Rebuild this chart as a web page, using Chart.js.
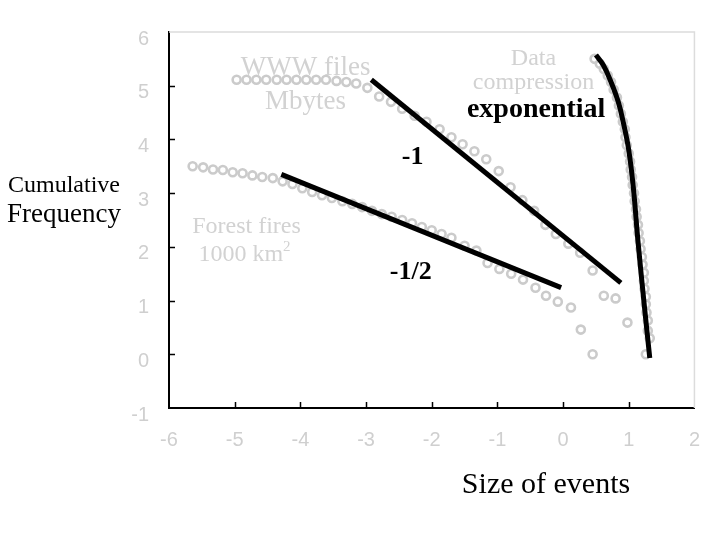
<!DOCTYPE html>
<html>
<head>
<meta charset="utf-8">
<script src="https://cdn.jsdelivr.net/npm/chart.js@4.4.1/dist/chart.umd.min.js"></script>
<style>
  html, body { margin: 0; padding: 0; background: #fff; }
</style>
</head>
<body>
<canvas id="chart" width="720" height="540"></canvas>
<script>
// log10 size / log10 cumulative frequency
const wwwX = [-4.97, -4.82, -4.67, -4.52, -4.36, -4.21, -4.06, -3.91, -3.76, -3.61, -3.45, -3.30, -3.15, -2.98,
  -2.80, -2.62, -2.45, -2.26, -2.08, -1.88, -1.70, -1.53, -1.35, -1.17, -0.98, -0.80, -0.62, -0.44, -0.27, -0.11,
  0.08, 0.26, 0.45, 0.62, 0.80, 0.98];
const wwwY = [5.11, 5.11, 5.11, 5.11, 5.11, 5.11, 5.11, 5.11, 5.11, 5.11, 5.09, 5.07, 5.04, 4.96,
  4.80, 4.70, 4.57, 4.44, 4.33, 4.19, 4.04, 3.91, 3.78, 3.63, 3.41, 3.11, 2.87, 2.67, 2.41, 2.24,
  2.06, 1.89, 1.56, 1.09, 1.04, 0.59];

const forestX = [-5.64, -5.48, -5.33, -5.18, -5.03, -4.88, -4.73, -4.58, -4.42, -4.27, -4.12, -3.97, -3.82, -3.67,
  -3.52, -3.36, -3.21, -3.06, -2.91, -2.76, -2.61, -2.45, -2.30, -2.15, -2.00, -1.85, -1.70, -1.50, -1.32, -1.15,
  -0.97, -0.79, -0.61, -0.42, -0.26, -0.08, 0.12, 0.27, 0.45];
const forestY = [3.50, 3.48, 3.44, 3.43, 3.39, 3.37, 3.33, 3.30, 3.28, 3.22, 3.17, 3.09, 3.02, 2.96,
  2.91, 2.85, 2.80, 2.74, 2.67, 2.61, 2.56, 2.50, 2.44, 2.37, 2.31, 2.24, 2.17, 2.02, 1.93, 1.70,
  1.59, 1.50, 1.39, 1.24, 1.09, 0.98, 0.87, 0.46, 0.00];

const compX = [0.48, 0.56, 0.62, 0.68, 0.73, 0.77, 0.82, 0.85, 0.88, 0.91, 0.94, 0.95, 0.97, 1.00, 1.02, 1.03,
  1.05, 1.06, 1.08, 1.09, 1.11, 1.12, 1.14, 1.15, 1.17, 1.18, 1.20, 1.21, 1.23, 1.23, 1.24, 1.26, 1.26, 1.27,
  1.29, 1.29, 1.32, 1.26];
const compY = [5.50, 5.41, 5.31, 5.19, 5.07, 4.93, 4.78, 4.63, 4.48, 4.33, 4.19, 4.04, 3.89, 3.74, 3.59, 3.44,
  3.30, 3.15, 3.00, 2.85, 2.70, 2.56, 2.41, 2.26, 2.11, 1.96, 1.81, 1.67, 1.52, 1.37, 1.22, 1.07, 0.93, 0.78,
  0.63, 0.44, 0.30, 0.00];

// fitted lines
const slope1X = [-2.92, 0.88];
const slope1Y = [5.11, 1.33];
const slopeHalfX = [-4.29, -0.03];
const slopeHalfY = [3.35, 1.24];
const expX = [0.50, 0.61, 0.73, 0.84, 0.92, 1.00, 1.07, 1.14, 1.24, 1.32];
const expY = [5.57, 5.39, 5.07, 4.70, 4.30, 3.80, 3.10, 2.11, 0.87, -0.07];

const xTicks = [-6, -5, -4, -3, -2, -1, 0, 1, 2];
const yTicks = [-1, 0, 1, 2, 3, 4, 5, 6];

const zip = (xs, ys) => xs.map((x, i) => ({ x, y: ys[i] }));

const SERIF = '"Liberation Serif", "Times New Roman", serif';
const SANS = '"Liberation Sans", Arial, sans-serif';
const PALE = '#d2d2d2';

const circles = (data) => ({
  data, showLine: false, order: 1,
  pointStyle: 'circle', pointRadius: 4, pointBorderWidth: 2.6,
  pointBorderColor: '#cbcbcb', pointBackgroundColor: 'rgba(255,255,255,0)'
});
const fitLine = (data, extra) => Object.assign({
  data, showLine: true, order: 0, pointRadius: 0,
  borderColor: '#000', borderWidth: 5
}, extra);

// frame, inward ticks and the text labels
const decorations = {
  id: 'decorations',
  beforeDatasetsDraw(chart) {
    const { ctx, chartArea: a } = chart;
    ctx.save();
    ctx.strokeStyle = '#dcdcdc';
    ctx.lineWidth = 1.5;
    ctx.beginPath();
    ctx.moveTo(a.left, a.top); ctx.lineTo(a.right, a.top); ctx.lineTo(a.right, a.bottom);
    ctx.stroke();
    ctx.strokeStyle = '#000';
    ctx.lineWidth = 1.5;
    const x = chart.scales.x, y = chart.scales.y;
    ctx.beginPath();
    xTicks.slice(1, -1).forEach(v => {
      const px = Math.round(x.getPixelForValue(v)) + 0.5;
      ctx.moveTo(px, a.bottom); ctx.lineTo(px, a.bottom - 6);
    });
    yTicks.slice(1, -1).forEach(v => {
      const py = Math.round(y.getPixelForValue(v)) + 0.5;
      ctx.moveTo(a.left, py); ctx.lineTo(a.left + 6, py);
    });
    ctx.stroke();
    ctx.restore();
  },
  afterDraw(chart) {
    const { ctx } = chart;
    const x = chart.scales.x, y = chart.scales.y;
    const put = (text, vx, vy, font, color) => {
      ctx.font = font;
      ctx.fillStyle = color;
      ctx.textAlign = 'center';
      ctx.textBaseline = 'alphabetic';
      ctx.fillText(text, x.getPixelForValue(vx), y.getPixelForValue(vy));
    };
    ctx.save();
    put('WWW files', -3.92, 5.20, '27px ' + SERIF, PALE);
    put('Mbytes', -3.92, 4.57, '27px ' + SERIF, PALE);
    put('Data', -0.45, 5.39, '24px ' + SERIF, PALE);
    put('compression', -0.45, 4.93, '24px ' + SERIF, PALE);
    put('exponential', -0.41, 4.41, 'bold 28px ' + SERIF, '#000');
    put('-1', -2.29, 3.54, 'bold 26px ' + SERIF, '#000');
    put('-1/2', -2.32, 1.41, 'bold 26px ' + SERIF, '#000');
    put('Forest fires', -4.82, 2.26, '24px ' + SERIF, PALE);

    // 1000 km² with a raised 2
    ctx.font = '24px ' + SERIF;
    const base = '1000 km';
    const w = ctx.measureText(base).width;
    ctx.font = '15px ' + SERIF;
    const w2 = ctx.measureText('2').width;
    const cx = x.getPixelForValue(-4.85), cy = y.getPixelForValue(1.74);
    ctx.textAlign = 'left';
    ctx.fillStyle = PALE;
    ctx.font = '24px ' + SERIF;
    ctx.fillText(base, cx - (w + w2) / 2, cy);
    ctx.font = '15px ' + SERIF;
    ctx.fillText('2', cx - (w + w2) / 2 + w, cy - 10);

    // axis titles
    ctx.fillStyle = '#000';
    ctx.textAlign = 'left';
    ctx.font = '24px ' + SERIF;
    ctx.fillText('Cumulative', 8, 192);
    ctx.font = '27px ' + SERIF;
    ctx.fillText('Frequency', 7, 222);
    ctx.textAlign = 'center';
    ctx.font = '30px ' + SERIF;
    ctx.fillText('Size of events', 546, 493);
    ctx.restore();
  }
};

new Chart(document.getElementById('chart'), {
  type: 'scatter',
  data: {
    datasets: [
      fitLine(zip(slope1X, slope1Y)),
      fitLine(zip(slopeHalfX, slopeHalfY)),
      fitLine(zip(expX, expY), { tension: 0.4 }),
      circles(zip(wwwX, wwwY)),
      circles(zip(forestX, forestY)),
      circles(zip(compX, compY))
    ]
  },
  options: {
    responsive: false,
    animation: false,
    layout: { padding: { left: 0, right: 23, top: 30, bottom: 0 } },
    plugins: { legend: { display: false }, tooltip: { enabled: false } },
    scales: {
      x: {
        type: 'linear', min: -6, max: 2,
        afterBuildTicks: (s) => { s.ticks = xTicks.map(v => ({ value: v })); },
        afterFit: (s) => { s.height = 132; },
        grid: { display: false, drawTicks: false },
        border: { display: true, color: '#000', width: 2 },
        ticks: { color: '#cfcfcf', padding: 20, maxRotation: 0, font: { family: SANS, size: 20 } }
      },
      y: {
        type: 'linear', min: -1, max: 6,
        afterBuildTicks: (s) => { s.ticks = yTicks.map(v => ({ value: v })); },
        afterFit: (s) => { s.width = 169; },
        grid: { display: false, drawTicks: false },
        border: { display: true, color: '#000', width: 2 },
        ticks: { color: '#cfcfcf', padding: 20, labelOffset: 7, font: { family: SANS, size: 20 } }
      }
    }
  },
  plugins: [decorations]
});
</script>
</body>
</html>
